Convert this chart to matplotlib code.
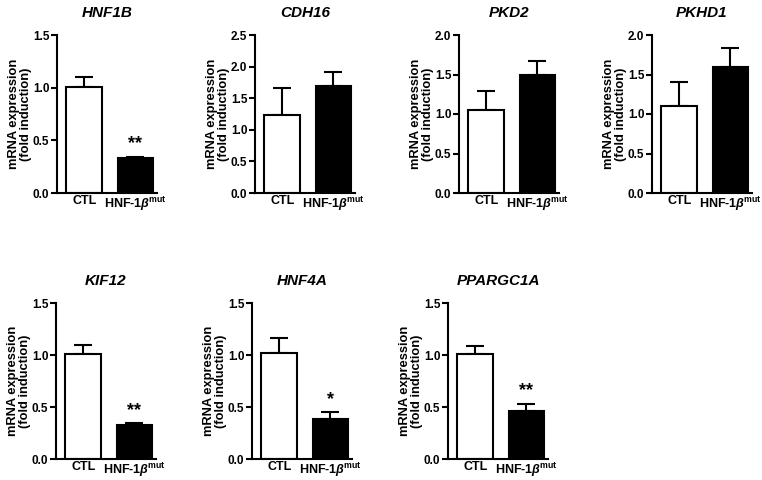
import numpy as np
import matplotlib
matplotlib.use('Agg')
import matplotlib.pyplot as plt

plt.rcParams['font.family'] = ['Liberation Sans', 'DejaVu Sans']
plt.rcParams['font.weight'] = 'bold'
plt.rcParams['mathtext.fontset'] = 'custom'
plt.rcParams['mathtext.rm'] = 'Liberation Sans:bold'
plt.rcParams['mathtext.it'] = 'Liberation Sans:bold:italic'
plt.rcParams['mathtext.bf'] = 'Liberation Sans:bold'

genes = ['HNF1B', 'CDH16', 'PKD2', 'PKHD1', 'KIF12', 'HNF4A', 'PPARGC1A']
groups = ['CTL', r'HNF-1$\it{\beta}$$^{\rm{mut}}$']
ctl_mean = [1.01, 1.23, 1.05, 1.10, 1.01, 1.02, 1.005]
ctl_sem = [0.09, 0.43, 0.24, 0.30, 0.09, 0.14, 0.085]
mut_mean = [0.33, 1.69, 1.50, 1.59, 0.33, 0.38, 0.465]
mut_sem = [0.015, 0.23, 0.17, 0.25, 0.015, 0.07, 0.065]
ymax = [1.5, 2.5, 2.0, 2.0, 1.5, 1.5, 1.5]
stars = ['**', '', '', '', '**', '*', '**']

W, H = 762, 480
fig = plt.figure(figsize=(W / 100, H / 100), dpi=100)

# axes boxes in pixels: left, bottom(y from top), top(y from top)
lefts = [57, 255, 459, 652, 56, 252, 448]
bottoms = [193, 193, 193, 193, 459, 459, 459]
tops = [35, 35, 35, 35, 303, 303, 303]
aw = 100

for i, g in enumerate(genes):
    ax = fig.add_axes([lefts[i] / W, 1 - bottoms[i] / H, aw / W,
                       (bottoms[i] - tops[i]) / H])
    x = np.arange(2)
    means = [ctl_mean[i], mut_mean[i]]
    sems = [ctl_sem[i], mut_sem[i]]
    ax.errorbar(x, means, yerr=[[0, 0], sems], fmt='none', ecolor='black',
                elinewidth=1.5, capsize=6.5, capthick=1.5, zorder=1)
    ax.bar(x, means, width=0.7, color=['white', 'black'], edgecolor='black',
           linewidth=1.5, zorder=2)
    if stars[i]:
        ax.annotate(stars[i], (1, means[1] + sems[1]), xytext=(0, 6),
                    textcoords='offset points', ha='center', va='baseline',
                    fontsize=13, fontweight='bold')
    ax.set_xlim(-0.53, 1.42)
    ax.set_ylim(0, ymax[i])
    ax.set_yticks(np.arange(0, ymax[i] + 0.01, 0.5))
    ax.yaxis.set_major_formatter(plt.FormatStrFormatter('%.1f'))
    ax.set_xticks(x)
    ax.set_xticklabels(groups, fontsize=9, fontweight='bold')
    ax.tick_params(axis='x', length=0, pad=1.5)
    ax.tick_params(axis='y', length=4, width=1.5, labelsize=8.5, pad=1.5)
    for lab in ax.get_yticklabels():
        lab.set_fontweight('bold')
    for s in ['top', 'right']:
        ax.spines[s].set_visible(False)
    for s in ['left', 'bottom']:
        ax.spines[s].set_linewidth(1.5)
    ax.set_ylabel('mRNA expression\n(fold induction)', fontsize=9.3,
                  fontweight='bold', linespacing=1.0)
    ax.yaxis.set_label_coords(-0.25, 0.5)
    ax.set_title(g, fontsize=11, fontweight='bold', fontstyle='italic', pad=13)

fig.savefig('out.png', dpi=100)
